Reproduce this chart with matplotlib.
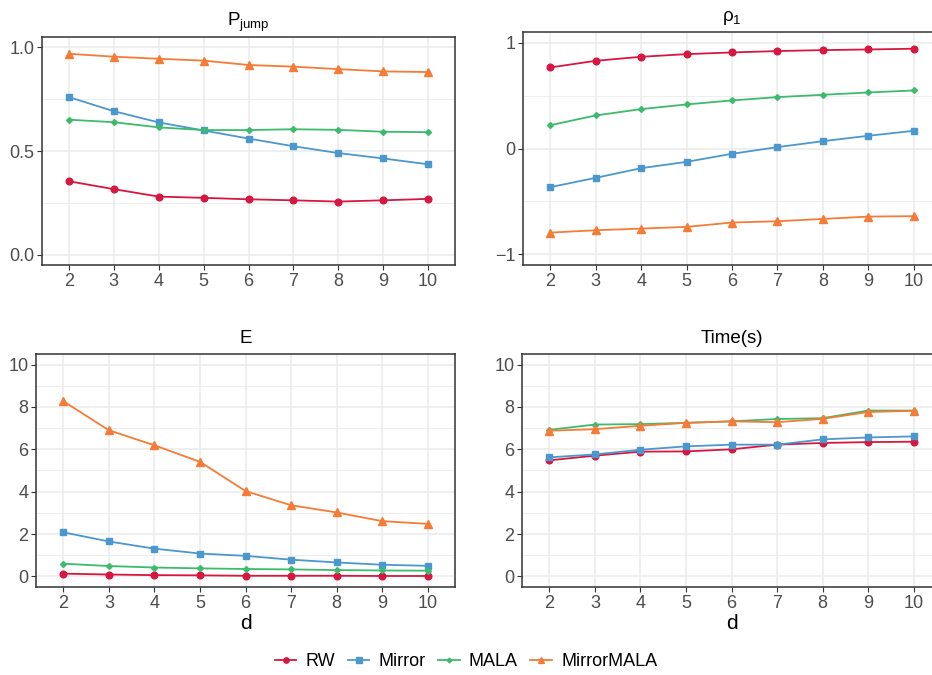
import matplotlib
matplotlib.use("Agg")
from matplotlib import pyplot as plt
from matplotlib.lines import Line2D
from matplotlib.ticker import MultipleLocator

plt.rcParams['font.family'] = ['Liberation Sans', 'DejaVu Sans']

d = [2, 3, 4, 5, 6, 7, 8, 9, 10]
methods = ['RW', 'Mirror', 'MALA', 'MirrorMALA']
colors = {'RW': '#D7173F', 'Mirror': '#4B98CE', 'MALA': '#3DBB6C', 'MirrorMALA': '#F57B36'}
markers = {'RW': ('o', 4.8), 'Mirror': ('s', 4.8), 'MALA': ('D', 3.0), 'MirrorMALA': ('^', 5.8)}

p_jump = {
    'RW':         [0.354, 0.316, 0.280, 0.274, 0.267, 0.262, 0.256, 0.262, 0.269],
    'Mirror':     [0.760, 0.692, 0.638, 0.599, 0.560, 0.523, 0.490, 0.464, 0.436],
    'MALA':       [0.651, 0.639, 0.614, 0.601, 0.601, 0.605, 0.602, 0.593, 0.591],
    'MirrorMALA': [0.969, 0.955, 0.945, 0.936, 0.915, 0.907, 0.895, 0.884, 0.881],
}
rho1 = {
    'RW':         [0.765, 0.828, 0.866, 0.891, 0.907, 0.920, 0.929, 0.935, 0.942],
    'Mirror':     [-0.365, -0.277, -0.186, -0.126, -0.050, 0.013, 0.069, 0.120, 0.167],
    'MALA':       [0.220, 0.312, 0.372, 0.416, 0.454, 0.485, 0.507, 0.529, 0.548],
    'MirrorMALA': [-0.794, -0.772, -0.756, -0.740, -0.699, -0.687, -0.665, -0.643, -0.639],
}
E = {
    'RW':         [0.13, 0.09, 0.06, 0.05, 0.03, 0.03, 0.03, 0.02, 0.02],
    'Mirror':     [2.08, 1.65, 1.31, 1.08, 0.97, 0.79, 0.66, 0.55, 0.50],
    'MALA':       [0.60, 0.49, 0.42, 0.38, 0.35, 0.33, 0.30, 0.28, 0.27],
    'MirrorMALA': [8.27, 6.90, 6.19, 5.41, 4.03, 3.36, 3.02, 2.61, 2.48],
}
time_s = {
    'RW':         [5.48, 5.70, 5.89, 5.90, 6.00, 6.22, 6.30, 6.34, 6.36],
    'Mirror':     [5.62, 5.76, 5.98, 6.14, 6.22, 6.22, 6.47, 6.56, 6.61],
    'MALA':       [6.92, 7.17, 7.19, 7.25, 7.32, 7.43, 7.47, 7.83, 7.83],
    'MirrorMALA': [6.88, 6.95, 7.11, 7.25, 7.32, 7.28, 7.44, 7.76, 7.82],
}

W, H = 932, 675
fig = plt.figure(figsize=(W / 100, H / 100), dpi=100)

def px_axes(l, t, r, b):
    return fig.add_axes([l / W, 1 - b / H, (r - l) / W, (b - t) / H])

panels = [
    (px_axes(42, 37, 455, 265), p_jump, r'P$_{\mathregular{jump}}$', (-0.05, 1.05), [0, 0.5, 1.0], False),
    (px_axes(523, 32, 941, 265), rho1, r'ρ$_{\mathregular{1}}$', (-1.1, 1.1), [-1, 0, 1], False),
    (px_axes(36, 354, 455, 587), E, 'E', (-0.5, 10.5), [0, 2, 4, 6, 8, 10], True),
    (px_axes(522, 354, 941, 587), time_s, 'Time(s)', (-0.5, 10.5), [0, 2, 4, 6, 8, 10], True),
]

for ax, data, title, ylim, yt, bottom in panels:
    for m in methods:
        mk, ms = markers[m]
        ax.plot(d, data[m], color=colors[m], marker=mk, markersize=ms, linewidth=1.3)
    ax.set_xlim(1.4, 10.6)
    ax.set_ylim(*ylim)
    ax.set_xticks(d)
    ax.set_yticks(yt)
    ax.yaxis.set_minor_locator(MultipleLocator((yt[1] - yt[0]) / 2))
    ax.grid(True, which='major', color='#EBEBEB', linewidth=1.1)
    ax.grid(True, which='minor', axis='y', color='#EBEBEB', linewidth=0.6)
    ax.set_axisbelow(True)
    ax.tick_params(which='major', length=3.5, width=0.8, color='#333333',
                   labelsize=13, labelcolor='#4D4D4D', pad=2)
    ax.tick_params(which='minor', length=0)
    for sp in ax.spines.values():
        sp.set_color('#333333')
        sp.set_linewidth(1.1)
    ax.set_title(title, fontsize=13.5, pad=8)
    if bottom:
        ax.set_xlabel('d', fontsize=15, labelpad=2)

handles = [Line2D([], [], color=colors[m], marker=markers[m][0], markersize=markers[m][1] * 0.8,
                  linewidth=1.3) for m in methods]
fig.legend(handles, methods, loc='center', bbox_to_anchor=(0.5, 1 - 662 / H), ncol=4,
           frameon=False, fontsize=13, handlelength=1.2, columnspacing=0.7, handletextpad=0.5)

fig.savefig('out.png', dpi=100)
